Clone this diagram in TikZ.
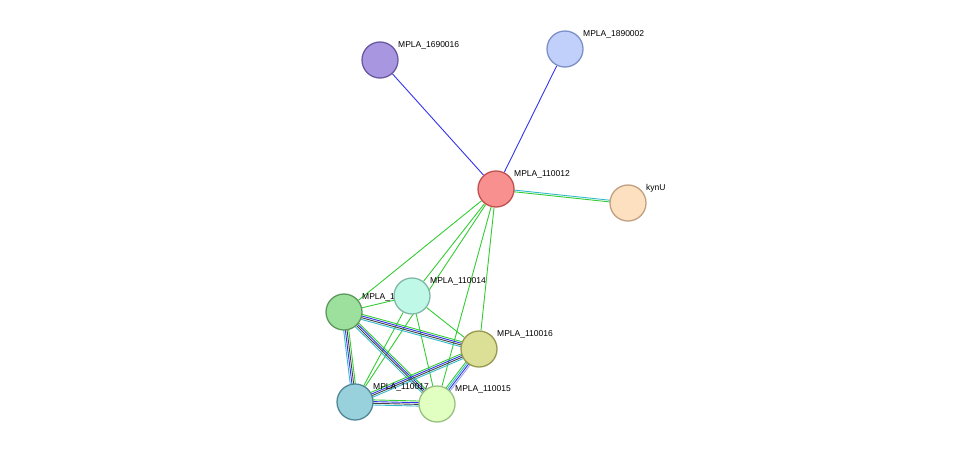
\documentclass[tikz,border=0pt]{standalone}
\usepackage{fontspec}
\setmainfont{Liberation Sans}
\usetikzlibrary{calc,backgrounds}
\definecolor{egreen}{HTML}{33CC33}
\definecolor{ecyan}{HTML}{33BBCC}
\definecolor{eblue}{HTML}{3333EE}
\definecolor{eblack}{HTML}{444444}
\definecolor{elav}{HTML}{A0A0F0}
\definecolor{dA}{HTML}{6A58A0}\definecolor{fA}{HTML}{A897E0}
\definecolor{dB}{HTML}{7D8FC7}\definecolor{fB}{HTML}{C0D0FA}
\definecolor{dC}{HTML}{C05050}\definecolor{fC}{HTML}{F89090}
\definecolor{dD}{HTML}{C0A080}\definecolor{fD}{HTML}{FDE0C0}
\definecolor{dE}{HTML}{5D985D}\definecolor{fE}{HTML}{9DE09D}
\definecolor{dF}{HTML}{80B8A8}\definecolor{fF}{HTML}{C0F8E8}
\definecolor{dG}{HTML}{989850}\definecolor{fG}{HTML}{DCDF96}
\definecolor{dH}{HTML}{508898}\definecolor{fH}{HTML}{98D0DC}
\definecolor{dI}{HTML}{98C080}\definecolor{fI}{HTML}{E0FFC0}
\tikzset
{
    protein/.style = {circle, draw=d#1, fill=f#1, line width=1.3pt, minimum size=36pt, inner sep=0pt},
    plabel/.style  = {font=\fontsize{8.5pt}{9pt}\selectfont, anchor=south west, inner sep=1pt},
    link/.style    = {line width=0.9pt}
}
% bundle of parallel links between two named nodes
\newcommand\bundle[3]{%
   \foreach \col [count=\i] in {#3} {\xdef\bundlen{\i}}%
   \foreach \col [count=\i] in {#3} {%
      \pgfmathsetmacro\off{(\i-(\bundlen+1)/2)*1.7}%
      \draw[link, \col] ($(#1)!\off pt!90:(#2)$) -- ($(#2)!\off pt!-90:(#1)$);
   }%
}
\begin{document}
\begin{tikzpicture}[x=1pt, y=-1pt]
   \useasboundingbox (0,0) rectangle (976,450);

   \node (n1690016) [protein=A] at (380, 60)  {};
   \node (n1890002) [protein=B] at (565, 49)  {};
   \node (n110012)  [protein=C] at (496, 189) {};
   \node (kynu)     [protein=D] at (628, 203) {};
   \node (n110013)  [protein=E] at (344, 312) {};
   \node (l110013)  [plabel] at ([shift=({17, -10})]n110013) {MPLA\_110013};
   \node (n110014)  [protein=F] at (412, 296) {};
   \node (n110016)  [protein=G] at (479, 349) {};
   \node (n110017)  [protein=H] at (355, 402) {};
   \node (l110017)  [plabel] at ([shift=({17, -10})]n110017) {MPLA\_110017};
   \node (n110015)  [protein=I] at (437, 404) {};

   \node (l1690016) [plabel] at ([shift=({17, -10})]n1690016) {MPLA\_1690016};
   \node (l1890002) [plabel] at ([shift=({17, -10})]n1890002) {MPLA\_1890002};
   \node (l110012)  [plabel] at ([shift=({17, -10})]n110012)  {MPLA\_110012};
   \node (lkynu)    [plabel] at ([shift=({17, -10})]kynu)     {kynU};
   \node (l110014)  [plabel] at ([shift=({17, -10})]n110014)  {MPLA\_110014};
   \node (l110016)  [plabel] at ([shift=({17, -10})]n110016)  {MPLA\_110016};
   \node (l110015)  [plabel] at ([shift=({17, -10})]n110015)  {MPLA\_110015};

   \begin{scope}[on background layer]
      \draw[link, eblue]  (n110012) -- (n1690016);
      \draw[link, eblue]  (n110012) -- (n1890002);
      \bundle{n110012}{kynu}{egreen,ecyan}
      \draw[link, egreen] (n110012) -- (n110013);
      \draw[link, egreen] (n110012) -- (n110014);
      \draw[link, egreen] (n110012) -- (n110016);
      \draw[link, egreen] (n110012) -- (n110017);
      \draw[link, egreen] (n110012) -- (n110015);
      \draw[link, egreen] (n110013) -- (n110014);
      \draw[link, egreen] (n110014) -- (n110016);
      \draw[link, egreen] (n110014) -- (n110015);
      \draw[link, egreen] (n110014) -- (n110017);
      \bundle{n110013}{n110016}{ecyan,eblack,eblue,egreen}
      \bundle{n110013}{n110015}{ecyan,eblack,eblue,egreen}
      \bundle{n110013}{n110017}{ecyan,eblue,eblack,egreen}
      \bundle{n110017}{n110016}{ecyan,eblack,eblue,egreen}
      \bundle{n110017}{n110015}{ecyan,eblack,eblue,egreen}
      \bundle{n110016}{n110015}{egreen,ecyan,eblue,elav}
   \end{scope}
\end{tikzpicture}
\end{document}
